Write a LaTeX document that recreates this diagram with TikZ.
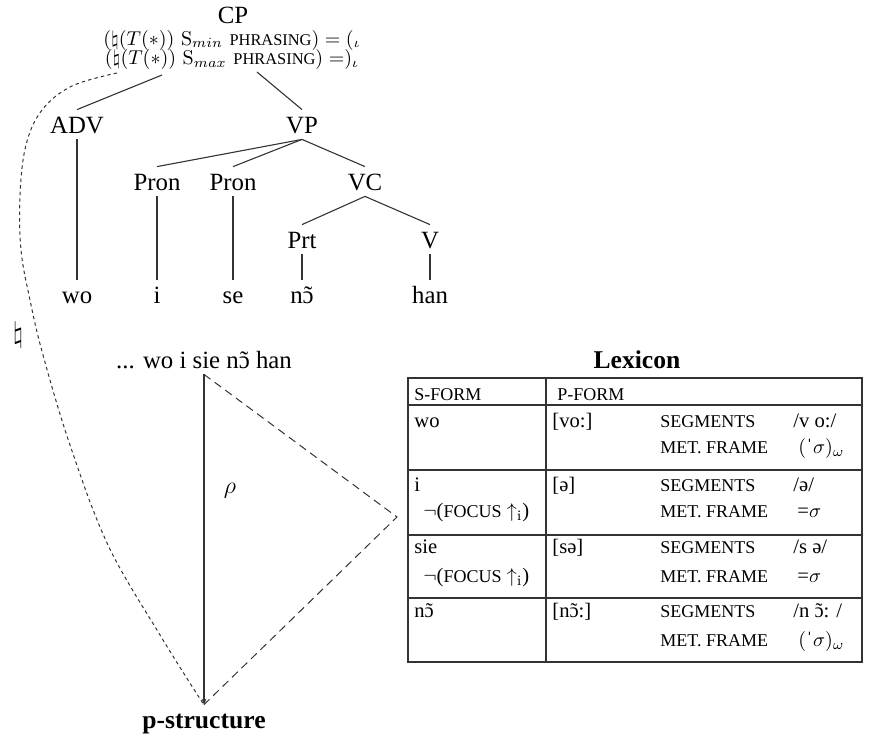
\documentclass[tikz,border=0pt]{standalone}
\usepackage{fontspec}
\newfontfamily\tnr{Liberation Serif}
\usetikzlibrary{arrows.meta}
\newcommand\otl{\accent"02DC ɔ}
\newcommand\mycaps[1]{{\tnr\fontsize{9}{11}\selectfont #1}}
\newcommand\mycapsf[1]{{\tnr\fontsize{8.2}{10}\selectfont #1}}
\begin{document}
\begin{tikzpicture}[x=0.5pt,y=-0.5pt,
  treelbl/.style={anchor=base, font=\tnr\fontsize{12.4}{14}\selectfont, inner sep=3pt, text height=8.5pt, text depth=0pt},
  formula/.style={anchor=base, inner sep=0pt, text height=7pt, text depth=1.5pt, font=\fontsize{10}{12}\selectfont},
  edge/.style={draw=black!80, line width=0.55pt},
  cell/.style={anchor=base west, inner sep=0pt, font=\tnr\fontsize{10.3}{12}\selectfont},
  sccell/.style={anchor=base west, inner sep=0pt, font=\tnr\fontsize{9}{11}\selectfont},
  boldlbl/.style={anchor=base, inner sep=3pt, text height=8.5pt, text depth=0pt, font=\tnr\bfseries\fontsize{12.8}{15}\selectfont},
  tri/.style={draw=black!80, line width=0.5pt, dash pattern=on 4pt off 2.6pt},
  curve/.style={draw=black!80, line width=0.5pt, dash pattern=on 1.7pt off 1.6pt},
  tabline/.style={draw=black!80, line width=0.6pt}]
\useasboundingbox (0,0) rectangle (870,739);

% top formula
\node[treelbl] (cp) at (233,24) {CP};
\node[formula] (f1) at (232,45) {$(\natural(T(*))\ \mathrm{S}_{min}$ \mycapsf{PHRASING}$) = (_\iota$};
\node[formula] (f2) at (232,64) {$(\natural(T(*))\ \mathrm{S}_{max}$ \mycapsf{PHRASING}$) = )_\iota$};
\coordinate (cpl) at (162,75);
\coordinate (cpr) at (257,72);

% tree
\node[treelbl] (adv) at (77,133) {ADV};
\node[treelbl] (vp) at (302,133) {VP};
\node[treelbl] (pron1) at (157,190) {Pron};
\node[treelbl] (pron2) at (233,190) {Pron};
\node[treelbl] (vc) at (365,190) {VC};
\node[treelbl] (prt) at (302,248) {Prt};
\node[treelbl] (v) at (430,248) {V};
\node[treelbl] (wo) at (77,303) {wo};
\node[treelbl] (i) at (157,303) {i};
\node[treelbl] (se) at (233,303) {se};
\node[treelbl] (no) at (302,303) {n\otl};
\node[treelbl] (han) at (430,303) {han};

\draw[edge] (cpl) -- (adv.north);
\draw[edge] (cpr) -- (vp.north);
\draw[edge] (vp.south) -- (pron1.north);
\draw[edge] (vp.south) -- (pron2.north);
\draw[edge] (vp.south) -- (vc.north);
\draw[edge] (vc.south) -- (prt.north);
\draw[edge] (vc.south) -- (v.north);
\draw[edge] (adv.south) -- (wo.north);
\draw[edge] (pron1.south) -- (i.north);
\draw[edge] (pron2.south) -- (se.north);
\draw[edge] (prt.south) -- (no.north);
\draw[edge] (v.south) -- (han.north);

% natural sign
\node[font=\fontsize{15}{17}\selectfont, inner sep=0pt] (nat) at (18,335) {$\natural$};

% p-structure part
\node[treelbl] (phrase) at (204,368) {... wo i sie n\otl{} han};
\node[boldlbl] (ps) at (204,728) {p-structure};
\coordinate (rv) at (397,517);
\node[font=\fontsize{12}{14}\selectfont] (rho) at (230,491) {$\rho$};

\draw[edge, -{Stealth[length=3pt,width=2.4pt]}] (phrase.south) -- (ps.north);
\draw[tri] (phrase.south) -- (rv) -- (ps.north);
\draw[curve] plot[smooth, tension=0.6] coordinates {(117,73) (72,86) (42,110) (26,145) (20,195) (21,250) (30,300) (43,355) (70,445) (108,545) (160,635) (204,705)};

% Lexicon
\node[boldlbl] (lex) at (637,368) {Lexicon};
\draw[tabline] (408,378) rectangle (862,662);
\draw[tabline] (408,405) -- (862,405);
\draw[tabline] (408,470) -- (862,470);
\draw[tabline] (408,535) -- (862,535);
\draw[tabline] (408,598) -- (862,598);
\draw[tabline] (546,378) -- (546,662);

\node[sccell] (h1) at (414,400) {S-FORM};
\node[sccell] (h2) at (557,400) {P-FORM};

\node[cell] (r1a) at (414,427) {wo};
\node[cell] (r1b) at (552,427) {[vo:]};
\node[sccell] (r1c) at (660,427) {SEGMENTS};
\node[cell] (r1d) at (793,427) {/v o:/};
\node[sccell] (r1e) at (660,453) {MET. FRAME};
\node[cell] (r1f) at (798,453) {$($\mbox{\tnr ˈ}$\sigma)_\omega$};

\node[cell] (r2a) at (414,491) {i};
\node[cell] (r2g) at (423,517) {$\neg$(\mycaps{FOCUS} $\uparrow_{\mathrm{i}}$)};
\node[cell] (r2b) at (552,491) {[ə]};
\node[sccell] (r2c) at (660,491) {SEGMENTS};
\node[cell] (r2d) at (793,491) {/ə/};
\node[sccell] (r2e) at (660,517) {MET. FRAME};
\node[cell] (r2f) at (797,517) {=$\sigma$};

\node[cell] (r3a) at (414,553) {sie};
\node[cell] (r3g) at (423,582) {$\neg$(\mycaps{FOCUS} $\uparrow_{\mathrm{i}}$)};
\node[cell] (r3b) at (552,553) {[sə]};
\node[sccell] (r3c) at (660,553) {SEGMENTS};
\node[cell] (r3d) at (793,553) {/s ə/};
\node[sccell] (r3e) at (660,582) {MET. FRAME};
\node[cell] (r3f) at (797,582) {=$\sigma$};

\node[cell] (r4a) at (414,617) {n\otl};
\node[cell] (r4b) at (552,617) {[n\otl:]};
\node[sccell] (r4c) at (660,617) {SEGMENTS};
\node[cell] (r4d) at (793,617) {/n \otl: /};
\node[sccell] (r4e) at (660,646) {MET. FRAME};
\node[cell] (r4f) at (798,646) {$($\mbox{\tnr ˈ}$\sigma)_\omega$};
\end{tikzpicture}
\end{document}
